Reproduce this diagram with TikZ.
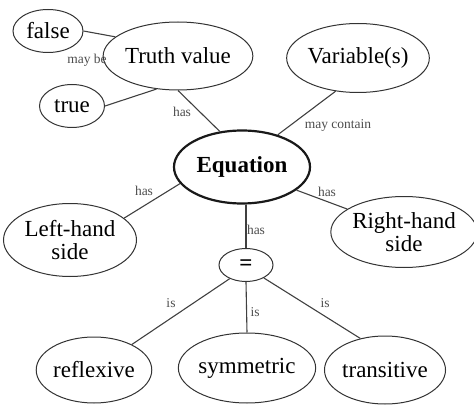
\documentclass[tikz,border=0pt]{standalone}
\usepackage{fontspec}
\setmainfont{Liberation Serif}
\usetikzlibrary{shapes.geometric}
\begin{document}
\begin{tikzpicture}[x=1pt,y=-1pt,
 concept/.style={ellipse,draw=black!80,line width=1pt,inner sep=0pt,align=center,font=\fontsize{23}{23.5}\selectfont},
 lbl/.style={font=\fontsize{13.5}{14}\selectfont,text=black!70,inner sep=0pt},
 link/.style={draw=black!75,line width=1.1pt}]
\useasboundingbox (0,0) rectangle (474,409);
\node[concept,minimum width=70pt,minimum height=43pt] (false) at (48,31) {false};
\node[concept,minimum width=125pt,minimum height=68pt] (tv) at (178,56) {Truth value};
\node[concept,minimum width=65pt,minimum height=43pt] (true) at (72,106) {true};
\node[concept,minimum width=128pt,minimum height=69pt] (var) at (358,58) {Variable(s)};
\node[concept,minimum width=136pt,minimum height=73pt,line width=2.2pt,draw=black!90,font=\fontsize{23}{23}\selectfont\bfseries] (eq) at (242,167) {Equation};
\node[concept,minimum width=133pt,minimum height=73pt] (lhs) at (70,240) {Left-hand\\side};
\node[concept,minimum width=135pt,minimum height=71pt] (rhs) at (404,232) {Right-hand\\side};
\node[concept,minimum width=54pt,minimum height=33pt,font=\fontsize{23}{23}\selectfont\bfseries] (eqs) at (246,265) {=};
\node[concept,minimum width=105pt,minimum height=66pt] (refl) at (94,370) {reflexive};
\node[concept,minimum width=113pt,minimum height=70pt] (sym) at (247,368) {symmetric};
\node[concept,minimum width=111pt,minimum height=68pt] (trans) at (385,370) {transitive};

\draw[link] (false.east) -- (tv.163);
\draw[link] (true.east) -- (tv.237);
\draw[link] (tv.south) -- (eq.122);
\draw[link] (var.236) -- (eq.42);
\draw[link] (eq.195) -- (lhs.22);
\draw[link] (eq.337) -- (rhs.158);
\draw[link] (eqs.north) -- (eqs.north |- eq.south);
\draw[link] (eqs.220) -- (refl.34);
\draw[link] (eqs.south) -- (sym.north);
\draw[link] (eqs.324) -- (trans.128);

\node[lbl] (l1) at (87,60) {may be};
\node[lbl] (l2) at (182,112) {has};
\node[lbl] (l3) at (338,125) {may contain};
\node[lbl] (l4) at (327,192) {has};
\node[lbl] (l5) at (144,191) {has};
\node[lbl] (l6) at (256,230) {has};
\node[lbl] (l7) at (171,303) {is};
\node[lbl] (l8) at (255,312) {is};
\node[lbl] (l9) at (325,303) {is};
\end{tikzpicture}
\end{document}
